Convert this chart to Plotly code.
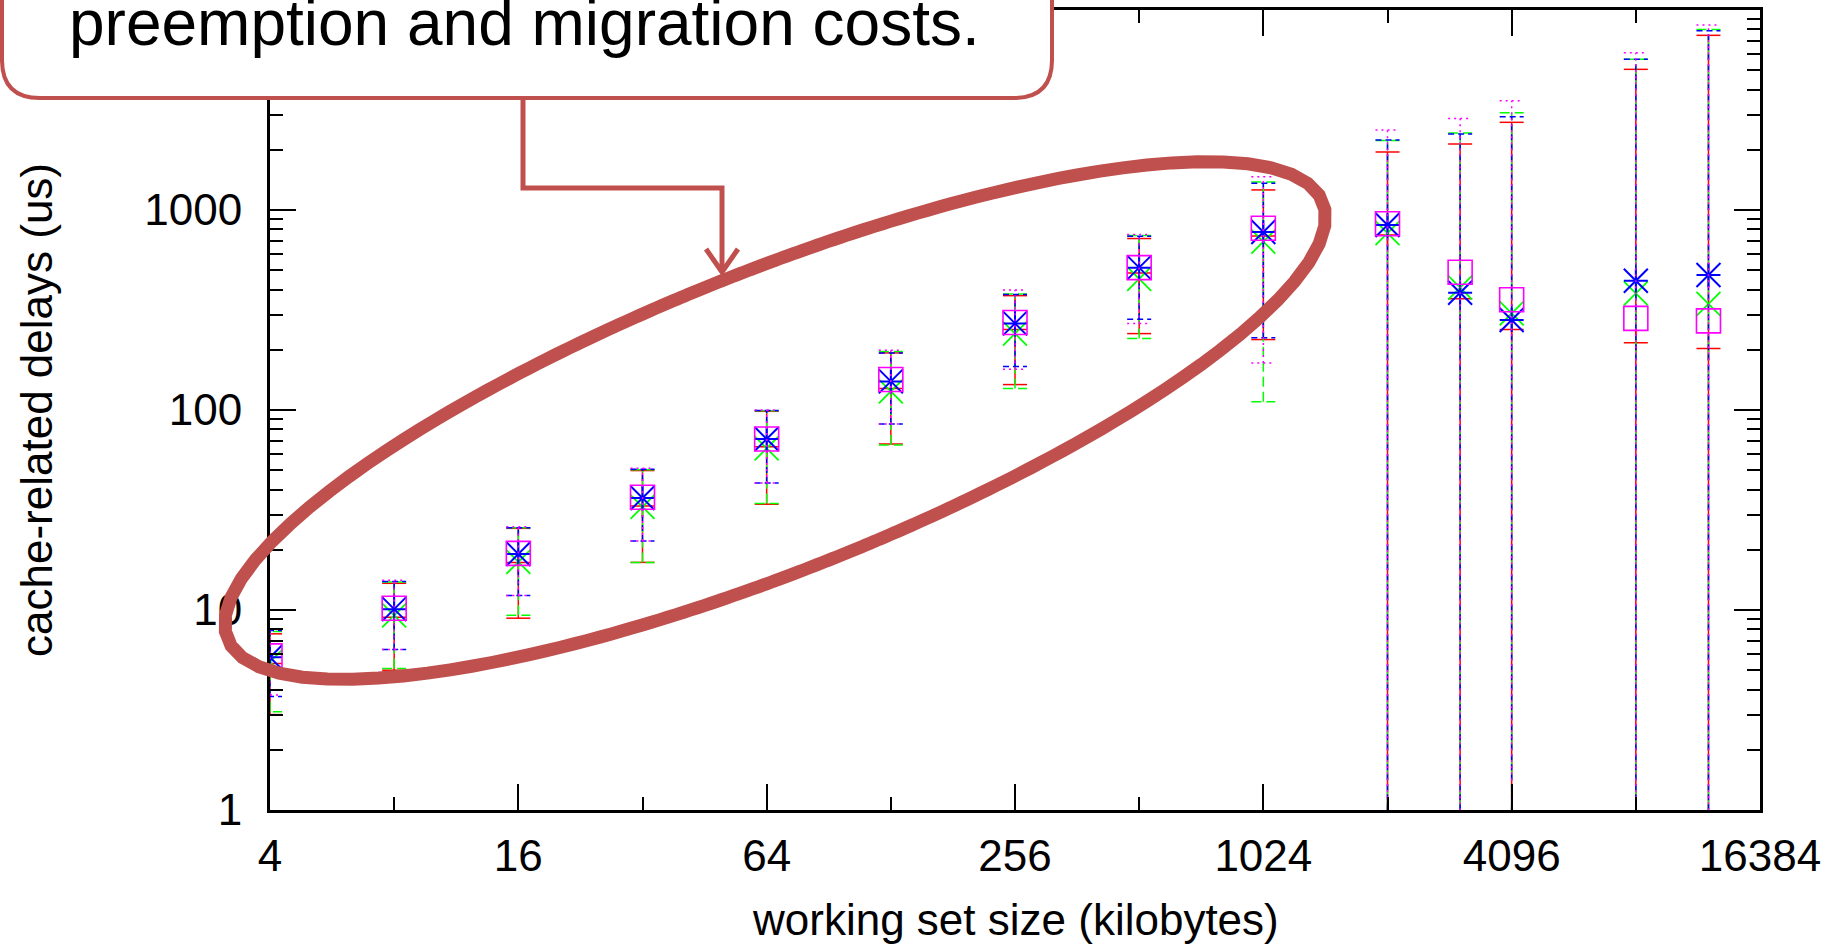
import numpy as np
import plotly.graph_objects as go

# ---------------- data ----------------
sizes_kb = [4, 8, 16, 32, 64, 128, 256, 512, 1024, 2048, 3072, 4096, 8192, 12288]

red_val = [5.4, 9.2, 17.3, 33.1, 65.5, 128, 253, 484, 741, 750, 360, 253, 217, 203]
red_lo = [3.0, 5.0, 9.1, 17.3, 33.8, 67.6, 134, 241, 225, 0.5, 0.5, 0.5, 0.5, 0.5]
red_hi = [7.6, 13.6, 25.6, 49.8, 98.5, 193, 373, 720, 1260, 1950, 2138, 2744, 5050, 7470]

green_val = [5.5, 9.4, 17.4, 32.8, 64.3, 124, 241, 452, 695, 766, 409, 304, 383, 339]
green_lo = [3.1, 5.1, 9.4, 17.3, 34.1, 66.8, 128, 228, 110, 0.5, 0.5, 0.5, 0.5, 0.5]
green_hi = [7.8, 13.8, 25.8, 50.2, 99, 196, 380, 745, 1380, 2224, 2425, 3066, 5665, 8000]

blue_val = [5.8, 10.1, 19.05, 36.3, 71.6, 139, 271, 515, 776, 841, 386, 282, 443, 473]
blue_lo = [3.69, 6.35, 11.8, 22.1, 43.1, 85, 165, 284, 230, 0.5, 0.5, 0.5, 0.5, 0.5]
blue_hi = [7.9, 13.9, 25.8, 50.6, 99.3, 193, 378, 740, 1360, 2239, 2399, 2929, 5665, 7880]

mag_val = [5.9, 10.2, 19.2, 36.6, 71.6, 142, 274, 515, 811, 854, 488, 356, 287, 279]
mag_lo = [3.76, 6.35, 11.8, 22.1, 43.1, 85, 160, 271, 172, 0.5, 0.5, 0.5, 0.5, 0.5]
mag_hi = [8.0, 14.1, 26.1, 51.2, 100, 199, 398, 754, 1465, 2512, 2871, 3522, 6118, 8414]

x_major = [4, 16, 64, 256, 1024, 4096, 16384]
x_minor = [8, 32, 128, 512, 2048, 8192]
y_major = [1, 10, 100, 1000]
y_minor = [m * 10 ** k for k in range(4) for m in range(2, 10)]

x_title = "working set size (kilobytes)"
y_title = "cache-related delays (us)"
callout_text = "preemption and migration costs."

# ---------------- layout geometry (pixels) ----------------
W, H = 1848, 946
L, R, T, B = 270, 1760, 10, 810
FONT = "Liberation Sans, Arial, sans-serif"
ACC = "#C0504D"


def px2paper(px, py):
    return (px - L) / (R - L), (B - py) / (B - T)


def path_from_pixels(cmds):
    out = []
    for c in cmds:
        if c[0] == "Z":
            out.append("Z")
            continue
        letter = c[0]
        coords = c[1:]
        pieces = []
        for i in range(0, len(coords), 2):
            xp, yp = px2paper(coords[i], coords[i + 1])
            pieces.append(f"{xp:.5f},{yp:.5f}")
        out.append(letter + " ".join(pieces))
    return " ".join(out)


fig = go.Figure()

# cap half-width ~12px on the log2 x scale
octave_px = (R - L) / 12.0
k = 2 ** (12.0 / octave_px)


def bar_trace(xs, lo, hi, color, dash):
    X, Y = [], []
    for x, a, b in zip(xs, lo, hi):
        X += [x, x, None, x / k, x * k, None, x / k, x * k, None]
        Y += [a, b, None, a, a, None, b, b, None]
    return go.Scatter(x=X, y=Y, mode="lines", line=dict(color=color, width=1.5, dash=dash),
                      hoverinfo="skip", showlegend=False)


def marker_trace(xs, ys, color, symbol, size, lw):
    return go.Scatter(x=xs, y=ys, mode="markers",
                      marker=dict(symbol=symbol, size=size, color=color,
                                  line=dict(color=color, width=lw)),
                      showlegend=False)


fig.add_trace(bar_trace(sizes_kb, red_lo, red_hi, "#FF0000", "solid"))
fig.add_trace(marker_trace(sizes_kb, red_val, "#FF0000", "cross-thin", 24 / 1.4, 1.5))

fig.add_trace(bar_trace(sizes_kb, green_lo, green_hi, "#00FF00", "10px,5px"))
fig.add_trace(marker_trace(sizes_kb, green_val, "#00FF00", "x-thin", 24, 1.8))

fig.add_trace(bar_trace(sizes_kb, blue_lo, blue_hi, "#0000FF", "6px,4px"))
fig.add_trace(marker_trace(sizes_kb, blue_val, "#0000FF", "cross-thin", 24 / 1.4, 2))
fig.add_trace(marker_trace(sizes_kb, blue_val, "#0000FF", "x-thin", 24, 2))

fig.add_trace(bar_trace(sizes_kb, mag_lo, mag_hi, "#FF00FF", "2px,4px"))
fig.add_trace(go.Scatter(x=sizes_kb, y=mag_val, mode="markers",
                         marker=dict(symbol="square-open", size=24, color="#FF00FF",
                                     line=dict(color="#FF00FF", width=1.6)),
                         showlegend=False))

axis_common = dict(
    showline=True, linewidth=3, linecolor="black", mirror="ticks",
    ticks="inside", ticklen=26, tickwidth=2, tickcolor="black",
    showgrid=False, zeroline=False, automargin=False,
    tickfont=dict(family=FONT, size=44, color="black"),
)

fig.update_xaxes(type="log", range=[np.log10(4), np.log10(16384)],
                 tickmode="array", tickvals=x_major, ticktext=[str(v) for v in x_major],
                 ticklabelstandoff=5,
                 minor=dict(tickmode="array", tickvals=x_minor, ticks="inside", ticklen=13,
                            tickwidth=2, tickcolor="black", showgrid=False),
                 **axis_common)
fig.update_yaxes(type="log", range=[0, 4],
                 tickmode="array", tickvals=y_major, ticktext=[str(v) for v in y_major],
                 ticklabelstandoff=16,
                 minor=dict(tickmode="array", tickvals=y_minor, ticks="inside", ticklen=13,
                            tickwidth=2, tickcolor="black", showgrid=False),
                 **axis_common)

shapes = []

# ---- ellipse (fit a conic through outline points) ----
outline = [(227, 631), (240, 587), (270, 545), (467, 400), (690, 292), (722, 279),
           (857, 233), (980, 200), (1202, 160), (1326, 224), (1257, 322), (1190, 376),
           (1170, 385), (1023, 468), (830, 557), (680, 617), (540, 653), (340, 679),
           (240, 657)]
P = np.array(outline, dtype=float) / 1000.0
Mx = np.column_stack([P[:, 0] ** 2, P[:, 0] * P[:, 1], P[:, 1] ** 2, P[:, 0], P[:, 1]])
A_, B_, C_, D_, E_ = np.linalg.lstsq(Mx, np.ones(len(P)), rcond=None)[0]
cen = np.linalg.solve(np.array([[2 * A_, B_], [B_, 2 * C_]]), -np.array([D_, E_]))
f0 = A_ * cen[0] ** 2 + B_ * cen[0] * cen[1] + C_ * cen[1] ** 2 + D_ * cen[0] + E_ * cen[1] - 1
ell = []
for th in np.linspace(0, 2 * np.pi, 241)[:-1]:
    c, s = np.cos(th), np.sin(th)
    q = A_ * c * c + B_ * c * s + C_ * s * s
    r = np.sqrt(-f0 / q)
    ell.append((1000 * (cen[0] + r * c), 1000 * (cen[1] + r * s)))
cmds = [("M",) + ell[0]] + [("L",) + p for p in ell[1:]] + [("Z",)]
shapes.append(dict(type="path", xref="paper", yref="paper", path=path_from_pixels(cmds),
                   line=dict(color=ACC, width=13), layer="above"))

# ---- callout box ----
bx0, bx1, by0, by1, rad = 2, 1052, -60, 98, 38
box = [("M", bx0, by0), ("L", bx0, by1 - rad), ("Q", bx0, by1, bx0 + rad, by1),
       ("L", bx1 - rad, by1), ("Q", bx1, by1, bx1, by1 - rad), ("L", bx1, by0), ("Z",)]
shapes.append(dict(type="path", xref="paper", yref="paper", path=path_from_pixels(box),
                   line=dict(color=ACC, width=4), fillcolor="white", layer="above"))

# ---- connector with arrow ----
conn = [("M", 523, 98), ("L", 523, 188), ("L", 722, 188), ("L", 722, 272)]
shapes.append(dict(type="path", xref="paper", yref="paper", path=path_from_pixels(conn),
                   line=dict(color=ACC, width=5), layer="above"))
head = [("M", 706, 249), ("L", 722, 272), ("L", 738, 249)]
shapes.append(dict(type="path", xref="paper", yref="paper", path=path_from_pixels(head),
                   line=dict(color=ACC, width=5), layer="above"))

fig.update_layout(shapes=shapes)

ax, ay = px2paper(524, -15)
tx, ty = px2paper(1015, 919)
yx, yy = px2paper(36, 410)
fig.update_layout(
    width=W, height=H,
    margin=dict(l=L, r=W - R, t=T, b=H - B, pad=0),
    paper_bgcolor="white", plot_bgcolor="white",
    showlegend=False,
    font=dict(family=FONT, color="black"),
    annotations=[
        dict(text=callout_text, xref="paper", yref="paper", x=ax, y=ay,
             xanchor="center", yanchor="top", showarrow=False,
             font=dict(family=FONT, size=64, color="black")),
        dict(text=x_title, xref="paper", yref="paper", x=tx, y=ty,
             xanchor="center", yanchor="middle", showarrow=False,
             font=dict(family=FONT, size=44, color="black")),
        dict(text=y_title, xref="paper", yref="paper", x=yx, y=yy, textangle=-90,
             xanchor="center", yanchor="middle", showarrow=False,
             font=dict(family=FONT, size=44, color="black")),
    ],
)

fig.write_html("out.html")
